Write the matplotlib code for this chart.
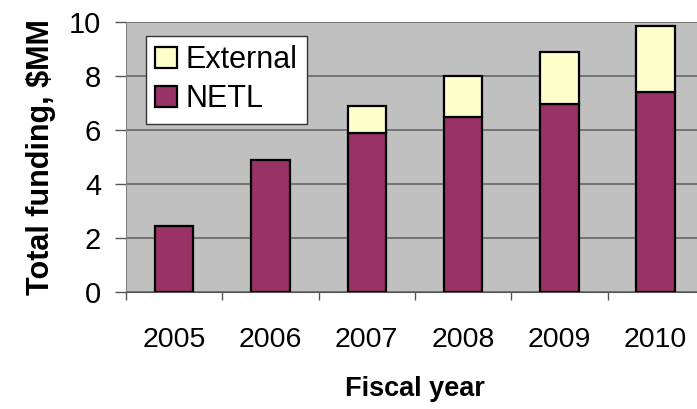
import matplotlib.pyplot as plt
import numpy as np

plt.rcParams['font.family'] = ['Liberation Sans', 'DejaVu Sans']

# Data
years = ['2005', '2006', '2007', '2008', '2009', '2010']
netl = [2.45, 4.9, 5.9, 6.5, 6.95, 7.4]
external = [0, 0, 1.0, 1.5, 1.95, 2.45]

x = np.arange(len(years))

fig = plt.figure(figsize=(6.97, 4.09), dpi=100)
ax = fig.add_axes([0.1808, 0.286, 0.829, 0.660])
ax.set_facecolor('#C0C0C0')

ax.bar(x, netl, width=0.4, color='#993366', edgecolor='black', linewidth=1.6,
       label='NETL', zorder=3)
ext_x = [xi for xi, e in zip(x, external) if e > 0]
ext_v = [e for e in external if e > 0]
ext_b = [n for n, e in zip(netl, external) if e > 0]
ax.bar(ext_x, ext_v, bottom=ext_b, width=0.4, color='#FFFFCC', edgecolor='black',
       linewidth=1.6, label='External', zorder=3)

ax.set_xlim(-0.5, len(years) - 0.5)
ax.set_ylim(0, 10)
ax.set_yticks(np.arange(0, 11, 2))
ax.yaxis.grid(True, color='#6e6e6e', linewidth=1.3, zorder=0)
ax.set_axisbelow(True)

# tick marks between categories, labels at centres
ax.set_xticks(np.arange(-0.5, len(years), 1.0))
ax.set_xticklabels([])
ax.set_xticks(x, minor=True)
ax.set_xticklabels(years, minor=True)
ax.tick_params(axis='x', which='major', direction='out', length=6, width=1, color='#555555')
ax.tick_params(axis='x', which='minor', length=0, pad=25, labelsize=20.5)
ax.tick_params(axis='y', direction='out', length=8, width=1, color='#555555', pad=10, labelsize=21)

for s in ['top', 'right']:
    ax.spines[s].set_visible(False)
ax.spines['left'].set_color('#808080')
ax.spines['bottom'].set_color('#555555')

ax.set_xlabel('Fiscal year', fontsize=19.5, fontweight='bold', labelpad=17)
ax.set_ylabel('Total funding, $MM', fontsize=22, fontweight='bold', labelpad=9)

h, l = ax.get_legend_handles_labels()
leg = ax.legend(h[::-1], l[::-1], loc='upper left', bbox_to_anchor=(0.035, 0.948),
                borderaxespad=0, fontsize=22, fancybox=False, framealpha=1,
                edgecolor='#333333', handlelength=0.7, handleheight=0.7,
                handletextpad=0.3, labelspacing=0.3, borderpad=0.3)
leg.get_frame().set_linewidth(1.0)

fig.savefig('out.png', dpi=100)
